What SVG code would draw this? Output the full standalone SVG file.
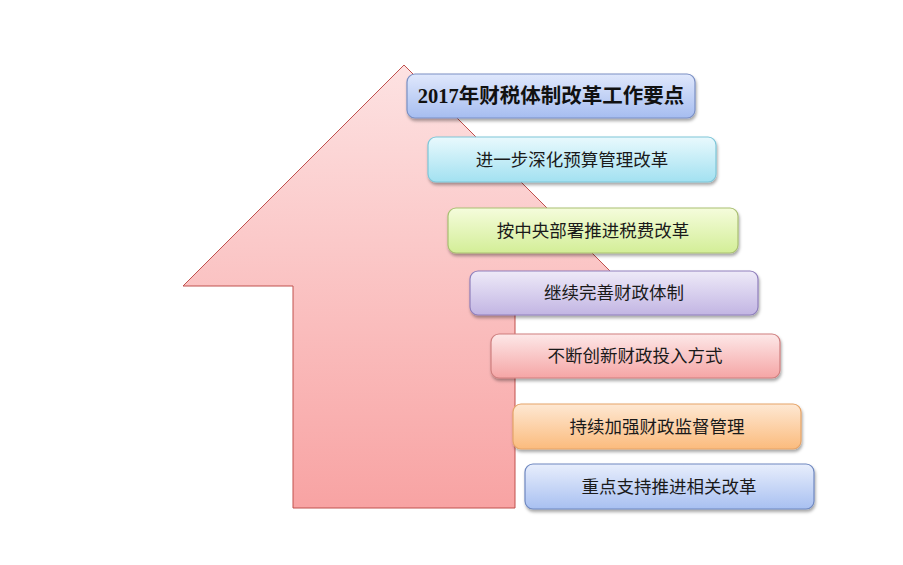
<svg xmlns="http://www.w3.org/2000/svg" width="903" height="565" viewBox="0 0 903 565">
<style>
.box{stroke-width:1.2;filter:url(#sh)}
.t{font-family:"Noto Sans CJK SC","Noto Sans",sans-serif;font-size:17.5px;fill:#1a1a1a;text-anchor:middle}
.title{font-family:"Liberation Serif","Noto Sans CJK SC",serif;font-weight:bold;font-size:20.5px;fill:#111;text-anchor:middle}
</style>
<defs>
<filter id="sh" x="-10%" y="-20%" width="120%" height="150%">
<feDropShadow dx="1" dy="2.5" stdDeviation="1.5" flood-color="#000" flood-opacity="0.35"/>
</filter>
<linearGradient id="ga" x1="0" y1="0" x2="0" y2="1"><stop offset="0" stop-color="#fde2e2"/><stop offset="1" stop-color="#f8a3a3"/></linearGradient>
<linearGradient id="g1" x1="0" y1="0" x2="0" y2="1"><stop offset="0" stop-color="#e0e8fc"/><stop offset="1" stop-color="#a6bdf0"/></linearGradient>
<linearGradient id="g2" x1="0" y1="0" x2="0" y2="1"><stop offset="0" stop-color="#e9f9fd"/><stop offset="1" stop-color="#a2e1f1"/></linearGradient>
<linearGradient id="g3" x1="0" y1="0" x2="0" y2="1"><stop offset="0" stop-color="#f5fcdc"/><stop offset="1" stop-color="#d3ee97"/></linearGradient>
<linearGradient id="g4" x1="0" y1="0" x2="0" y2="1"><stop offset="0" stop-color="#eeeaf8"/><stop offset="1" stop-color="#c2b5e3"/></linearGradient>
<linearGradient id="g5" x1="0" y1="0" x2="0" y2="1"><stop offset="0" stop-color="#fde8e8"/><stop offset="1" stop-color="#f5a5a5"/></linearGradient>
<linearGradient id="g6" x1="0" y1="0" x2="0" y2="1"><stop offset="0" stop-color="#fee8d3"/><stop offset="1" stop-color="#fbbb7d"/></linearGradient>
<linearGradient id="g7" x1="0" y1="0" x2="0" y2="1"><stop offset="0" stop-color="#e8eefc"/><stop offset="1" stop-color="#a8c0f1"/></linearGradient>
</defs>
<rect width="903" height="565" fill="#fff"/>
<g id="arrow">
<polygon points="404,65 625,286 515,286 515,508 293,508 293,286 183,286" fill="url(#ga)" stroke="#c0504d" stroke-width="1"/>
</g>
<g id="connectors"></g>
<g id="n1"><rect class="box" x="407" y="74" width="288" height="44" rx="8" fill="url(#g1)" stroke="#7a8fc4"/><text class="title" x="551" y="103">2017年财税体制改革工作要点</text></g>
<g id="n2"><rect class="box" x="428" y="137" width="288" height="45" rx="8" fill="url(#g2)" stroke="#7ec6d8"/><text class="t" x="572" y="166">进一步深化预算管理改革</text></g>
<g id="n3"><rect class="box" x="448" y="208" width="290" height="45" rx="8" fill="url(#g3)" stroke="#a9bf72"/><text class="t" x="593" y="237">按中央部署推进税费改革</text></g>
<g id="n4"><rect class="box" x="470" y="271" width="288" height="44" rx="8" fill="url(#g4)" stroke="#8f7fbb"/><text class="t" x="614" y="299">继续完善财政体制</text></g>
<g id="n5"><rect class="box" x="491" y="334" width="289" height="44" rx="8" fill="url(#g5)" stroke="#cf7f7f"/><text class="t" x="635" y="362">不断创新财政投入方式</text></g>
<g id="n6"><rect class="box" x="513" y="404" width="288" height="45" rx="8" fill="url(#g6)" stroke="#e5a468"/><text class="t" x="657" y="433">持续加强财政监督管理</text></g>
<g id="n7"><rect class="box" x="525" y="464" width="289" height="45" rx="8" fill="url(#g7)" stroke="#6f88c0"/><text class="t" x="669" y="493">重点支持推进相关改革</text></g>
</svg>
